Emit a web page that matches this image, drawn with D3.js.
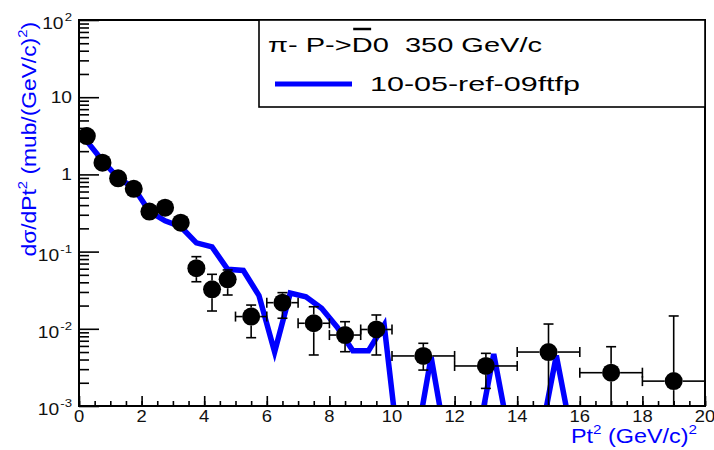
<!DOCTYPE html>
<html>
<head>
<meta charset="utf-8">
<script src="https://cdn.jsdelivr.net/npm/d3@7"></script>
<style>
  body { margin: 0; background: #fff; }
  svg { display: block; }
  text { font-family: "Liberation Sans", Arial, Helvetica, sans-serif; }
</style>
</head>
<body>
<script>
// measured points (pi- p -> anti-D0, 350 GeV/c)
var ptBins   = [0.25, 0.75, 1.25, 1.75, 2.25, 2.75, 3.25, 3.75, 4.25, 4.75, 5.5, 6.5, 7.5, 8.5, 9.5, 11, 13, 15, 17, 19];
var ptHalf   = [0.25, 0.25, 0.25, 0.25, 0.25, 0.25, 0.25, 0.25, 0.25, 0.25, 0.5, 0.5, 0.5, 0.5, 0.5, 1, 1, 1, 1, 1];
var dataVal  = [3.14, 1.42, 0.89, 0.65, 0.33, 0.37, 0.237, 0.061, 0.0325, 0.0438, 0.0144, 0.0218, 0.0118, 0.0083, 0.0098, 0.00445, 0.0033, 0.0050, 0.0027, 0.0021];
var dataHigh = [3.5, 1.6, 1.0, 0.73, 0.37, 0.41, 0.27, 0.086, 0.0508, 0.0578, 0.0203, 0.0294, 0.0193, 0.01236, 0.0151, 0.00649, 0.00481, 0.01153, 0.00586, 0.01466];
var dataLow  = [2.8, 1.25, 0.79, 0.58, 0.29, 0.33, 0.21, 0.0407, 0.0170, 0.0274, 0.00767, 0.0137, 0.00458, 0.00505, 0.00458, 0.00292, 0.00169, 0.0005, 0.0005, 0.0005];

// model curve 10-05-ref-09ftfp
var modelX = [0.25, 0.75, 1.25, 1.75, 2.25, 2.75, 3.25, 3.75, 4.25, 4.75,
              5.25, 5.75, 6.25, 6.75, 7.25, 7.75, 8.25, 8.75, 9.25, 9.75,
              10.25, 10.75, 11.25, 11.75, 12.25, 12.75, 13.25, 13.75, 14.25, 14.75,
              15.25, 15.75, 16.25, 16.75, 17.25, 17.75, 18.25, 18.75, 19.25, 19.75];
var modelY = [2.7, 1.5, 0.9, 0.67, 0.33, 0.25, 0.21, 0.13, 0.115, 0.059,
              0.057, 0.027, 0.005, 0.029, 0.026, 0.0184, 0.0105, 0.0052, 0.0052, 0.0112,
              0.0002, 0.0003, 0.0043, 0.0003, 0.0003, 0.0004, 0.0047, 0.0004, 0.0004, 0.0004,
              0.0045, 0.0004, 0.0003, 0.0003, 0.0003, 0.0003, 0.0003, 0.0003, 0.0003, 0.0003];

var xTicks = [0, 2, 4, 6, 8, 10, 12, 14, 16, 18, 20];
var xTickLabels = ["0", "2", "4", "6", "8", "10", "12", "14", "16", "18", "20"];
var yTicks = [1e-3, 1e-2, 1e-1, 1, 10, 100];
var yTickBase = ["10", "10", "10", "1", "10", "10"];
var yTickExp = ["-3", "-2", "-1", "", "", "2"];

var W = 714, H = 450;
var margin = {top: 20, right: 9, bottom: 44, left: 79};
var x0 = margin.left, x1 = W - margin.right, y0 = margin.top, y1 = H - margin.bottom;

var xScale = d3.scaleLinear().domain([0, 20]).range([x0, x1]);
var yScale = d3.scaleLog().domain([1e-3, 1e2]).range([y1, y0]);

var svg = d3.select("body").append("svg")
    .attr("width", W)
    .attr("height", H);

svg.append("defs").append("clipPath").attr("id", "frame")
  .append("rect")
    .attr("x", x0).attr("y", y0)
    .attr("width", x1 - x0).attr("height", y1 - y0);

// ticks (ROOT style, pointing inward)
var xMinor = d3.range(0, 20.01, 0.5);
var yMinor = [];
[-3, -2, -1, 0, 1].forEach(function(k){
    for (var m = 2; m < 10; m++) yMinor.push(m * Math.pow(10, k));
});

function cleanAxis(g){
    g.select(".domain").remove();
    g.selectAll(".tick line").attr("stroke", "#000").attr("stroke-width", 1.6);
}

svg.append("g")
    .attr("transform", "translate(0," + y1 + ")")
    .call(d3.axisBottom(xScale).tickValues(xMinor).tickSize(-5).tickFormat(""))
    .call(cleanAxis);
svg.append("g")
    .attr("transform", "translate(0," + y1 + ")")
    .call(d3.axisBottom(xScale).tickValues(xTicks).tickSize(-10).tickFormat(""))
    .call(cleanAxis);
svg.append("g")
    .attr("transform", "translate(" + x0 + ",0)")
    .call(d3.axisLeft(yScale).tickValues(yMinor).tickSize(-10).tickFormat(""))
    .call(cleanAxis);
svg.append("g")
    .attr("transform", "translate(" + x0 + ",0)")
    .call(d3.axisLeft(yScale).tickValues(yTicks).tickSize(-20).tickFormat(""))
    .call(cleanAxis);

// tick labels
xTicks.forEach(function(v, i){
    svg.append("text")
        .attr("transform", "translate(" + xScale(v) + "," + 421.5 + ") scale(1.15,1)")
        .attr("text-anchor", "middle")
        .attr("font-size", "16px")
        .attr("fill", "#111")
        .text(xTickLabels[i]);
});

yTicks.forEach(function(v, i){
    var hasExp = yTickExp[i] !== "";
    var t = svg.append("text")
        .attr("transform", "translate(72," + (yScale(v) + (hasExp ? 9 : 6)) + ") scale(1.2,1)")
        .attr("text-anchor", "end")
        .attr("font-size", "16px")
        .attr("fill", "#111");
    t.append("tspan").text(yTickBase[i]);
    if (hasExp){
        t.append("tspan").attr("font-size", "11px").attr("dy", -8).attr("dx", 1).text(yTickExp[i]);
    }
});

// model line
var plot = svg.append("g").attr("clip-path", "url(#frame)");
var line = d3.line()
    .x(function(d, i){ return xScale(modelX[i]); })
    .y(function(d){ return yScale(d); });

plot.append("path")
    .datum(modelY)
    .attr("fill", "none")
    .attr("stroke", "#0000ff")
    .attr("stroke-width", 5.5)
    .attr("d", line);

// data with error bars
var r = 9, cap = 5;
var bars = plot.append("g").attr("stroke", "#000").attr("stroke-width", 1.6);
ptBins.forEach(function(v, i){
    var px = xScale(v), py = yScale(dataVal[i]);
    var hx = xScale(v + ptHalf[i]) - px;
    var up = py - yScale(dataHigh[i]);
    var dn = yScale(dataLow[i]) - py;
    if (hx > r){
        bars.append("line").attr("x1", px - hx).attr("x2", px - r).attr("y1", py).attr("y2", py);
        bars.append("line").attr("x1", px + r).attr("x2", px + hx).attr("y1", py).attr("y2", py);
        bars.append("line").attr("x1", px - hx).attr("x2", px - hx).attr("y1", py - cap).attr("y2", py + cap);
        bars.append("line").attr("x1", px + hx).attr("x2", px + hx).attr("y1", py - cap).attr("y2", py + cap);
    }
    if (up > r){
        bars.append("line").attr("x1", px).attr("x2", px).attr("y1", py - r).attr("y2", py - up);
        bars.append("line").attr("x1", px - cap).attr("x2", px + cap).attr("y1", py - up).attr("y2", py - up);
    }
    if (dn > r){
        bars.append("line").attr("x1", px).attr("x2", px).attr("y1", py + r).attr("y2", py + dn);
        bars.append("line").attr("x1", px - cap).attr("x2", px + cap).attr("y1", py + dn).attr("y2", py + dn);
    }
});

plot.selectAll(".pt")
    .data(dataVal)
    .enter().append("circle")
    .attr("class", "pt")
    .attr("cx", function(d, i){ return xScale(ptBins[i]); })
    .attr("cy", function(d){ return yScale(d); })
    .attr("r", r)
    .attr("fill", "#000");

// frame
svg.append("rect")
    .attr("x", x0).attr("y", y0)
    .attr("width", x1 - x0).attr("height", y1 - y0)
    .attr("fill", "none")
    .attr("stroke", "#000")
    .attr("stroke-width", 2);

// axis titles
var xt = svg.append("text")
    .attr("transform", "translate(697,443) scale(1.17,1)")
    .attr("text-anchor", "end")
    .attr("font-size", "20px")
    .attr("fill", "#0000ff");
xt.append("tspan").text("Pt");
xt.append("tspan").attr("font-size", "13px").attr("dy", -9).text("2");
xt.append("tspan").attr("dy", 9).text(" (GeV/c)");
xt.append("tspan").attr("font-size", "13px").attr("dy", -9).text("2");

var yt = svg.append("text")
    .attr("transform", "translate(36,22) rotate(-90) scale(1.14,1)")
    .attr("text-anchor", "end")
    .attr("font-size", "20px")
    .attr("fill", "#0000ff");
yt.append("tspan").text("d\u03c3/dPt");
yt.append("tspan").attr("font-size", "13px").attr("dy", -9).text("2");
yt.append("tspan").attr("dy", 9).text(" (mub/(GeV/c)");
yt.append("tspan").attr("font-size", "13px").attr("dy", -9).text("2");
yt.append("tspan").attr("dy", 9).text(")");

// legend
var leg = svg.append("g");
leg.append("rect")
    .attr("x", 259).attr("y", y0)
    .attr("width", x1 - 259).attr("height", 87)
    .attr("fill", "#fff")
    .attr("stroke", "#000")
    .attr("stroke-width", 1.6);

var head = leg.append("text")
    .attr("x", 268).attr("y", 51.5)
    .attr("font-size", "20px")
    .attr("fill", "#000")
    .attr("textLength", 274)
    .attr("lengthAdjust", "spacingAndGlyphs")
    .style("white-space", "pre");
head.append("tspan").text("\u03c0- P->");
head.append("tspan").text("D");
head.append("tspan").text("0  350 GeV/c");

var ext = head.node().getExtentOfChar(6);
leg.append("line")
    .attr("x1", ext.x + 1.5).attr("x2", ext.x + ext.width - 1.5)
    .attr("y1", 29).attr("y2", 29)
    .attr("stroke", "#000")
    .attr("stroke-width", 2.5);

leg.append("line")
    .attr("x1", 275).attr("x2", 352)
    .attr("y1", 84).attr("y2", 84)
    .attr("stroke", "#0000ff")
    .attr("stroke-width", 5);

leg.append("text")
    .attr("x", 370).attr("y", 90.5)
    .attr("font-size", "21px")
    .attr("fill", "#000")
    .attr("textLength", 210)
    .attr("lengthAdjust", "spacingAndGlyphs")
    .text("10-05-ref-09ftfp");
</script>
</body>
</html>
